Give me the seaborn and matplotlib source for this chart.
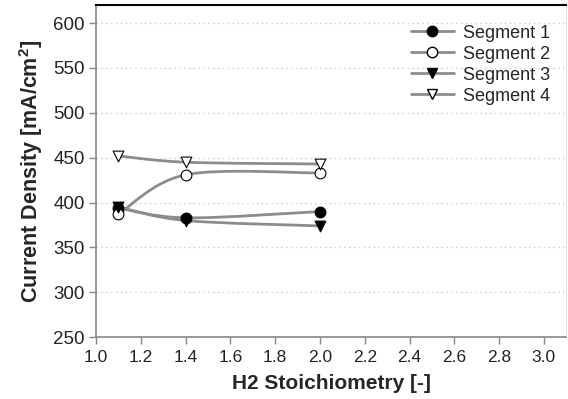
import numpy as np
import pandas as pd
import seaborn as sns
from matplotlib import pyplot as plt
from matplotlib.path import Path
from matplotlib.patches import PathPatch
from matplotlib.lines import Line2D

# data
stoich = [1.1, 1.4, 2.0]
seg1 = [394, 383, 390]
seg2 = [387, 431, 433]
seg3 = [395, 380, 374]
seg4 = [452, 445, 443]
names = ["Segment 1", "Segment 2", "Segment 3", "Segment 4"]
markers = ["o", "o", "v", "v"]
faces = ["black", "white", "black", "white"]

sns.set_style("white")
plt.rcParams['font.family'] = ['Liberation Sans', 'DejaVu Sans']
plt.rcParams['mathtext.fontset'] = 'custom'
plt.rcParams['mathtext.rm'] = 'Liberation Sans:bold'
plt.rcParams['mathtext.it'] = 'Liberation Sans:bold'

df = pd.DataFrame({"x": stoich * 4,
                   "y": seg1 + seg2 + seg3 + seg4,
                   "seg": np.repeat(names, len(stoich))})

line_col = "#8c8c8c"

fig = plt.figure(figsize=(5.68, 3.99), dpi=100)
ax = fig.add_axes([0.169, 0.155, 0.828, 0.832])


def smooth_path(xs, ys):
    # catmull-rom style bezier through the points (like excel smoothed lines)
    p = np.column_stack([xs, ys]).astype(float)
    n = len(p)
    verts = [p[0]]
    codes = [Path.MOVETO]
    for i in range(n - 1):
        p0 = p[max(i - 1, 0)]
        p1 = p[i]
        p2 = p[i + 1]
        p3 = p[min(i + 2, n - 1)]
        verts += [p1 + (p2 - p0) / 6, p2 - (p3 - p1) / 6, p2]
        codes += [Path.CURVE4] * 3
    return Path(verts, codes)


for name in names:
    d = df[df.seg == name]
    ax.add_patch(PathPatch(smooth_path(d.x.values, d.y.values), fill=False,
                           edgecolor=line_col, lw=2, zorder=2))

for name, m, fc in zip(names, markers, faces):
    d = df[df.seg == name]
    sns.scatterplot(ax=ax, x=d.x, y=d.y, marker=m, s=60, color=fc,
                    edgecolor="black", linewidth=0.8, zorder=3)

ax.set_xlim(1.0, 3.1)
ax.set_ylim(250, 620)
ax.set_xticks(np.arange(1.0, 3.01, 0.2))
ax.set_yticks(np.arange(250, 601, 50))
ax.set_xticklabels([f"{v:.1f}" for v in np.arange(1.0, 3.01, 0.2)])
ax.tick_params(axis="both", colors="#888888", labelcolor="#222222",
               direction="out", length=5, width=1)
ax.tick_params(axis="x", bottom=True, pad=4, labelsize=12.5)
ax.tick_params(axis="y", left=True, pad=3, labelsize=13.5)
ax.yaxis.grid(True, linestyle=(0, (1, 2.5)), color="#cccccc", lw=1)
ax.set_axisbelow(True)

for s in ["left", "bottom"]:
    ax.spines[s].set_color("#888888")
    ax.spines[s].set_linewidth(1.2)
ax.spines["top"].set_color("black")
ax.spines["top"].set_linewidth(1.5)
ax.spines["right"].set_color("#e4e4e4")

ax.set_xlabel("H2 Stoichiometry [-]", fontsize=15, fontweight="bold", labelpad=7)
ax.set_ylabel("Current Density [mA/cm$^2$]", fontsize=15.5, fontweight="bold", labelpad=6)

handles = [Line2D([], [], color=line_col, lw=2, marker=m, markerfacecolor=fc,
                  markeredgecolor="black", markersize=7.5)
           for m, fc in zip(markers, faces)]
ax.legend(handles, names, loc="upper right", frameon=False, fontsize=13,
          handlelength=2.4, handletextpad=0.5, labelspacing=0.22,
          bbox_to_anchor=(1.0, 0.99))

fig.savefig("out.png", dpi=100)
